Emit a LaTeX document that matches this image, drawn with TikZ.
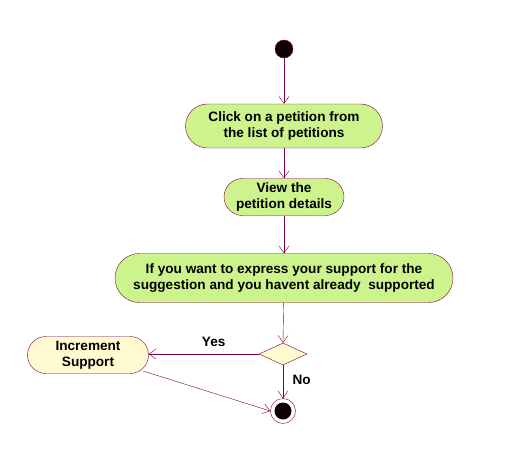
\documentclass[tikz,border=0pt]{standalone}
\usepackage{fontspec}
\setmainfont{Liberation Sans}
\usetikzlibrary{arrows.meta, shapes.geometric}
\definecolor{wire}{RGB}{128,0,64}
\definecolor{actgreen}{RGB}{204,243,140}
\definecolor{paleyellow}{RGB}{255,250,208}
\tikzset{
  activity/.style={draw=wire, fill=actgreen, align=center, font=\bfseries\fontsize{13.6}{16}\selectfont, inner sep=0pt},
  flow/.style={draw=wire, -{Straight Barb[length=7pt,width=10pt]}},
  lbl/.style={font=\bfseries\fontsize{13.6}{16}\selectfont}
}
\begin{document}
\begin{tikzpicture}[x=1pt, y=-1pt]
\useasboundingbox (0,0) rectangle (517,451);
% start state
\node[circle, draw=wire, fill=black!92!wire, minimum size=18pt, inner sep=0pt] (start) at (284,49) {};
% activities
\node[activity, minimum width=197pt, minimum height=44pt, rounded corners=22pt] (click) at (284,126) {Click on a petition from\\the list of petitions};
\node[activity, minimum width=120pt, minimum height=37pt, rounded corners=18.5pt] (view) at (284,197) {View the\\petition details};
\node[activity, minimum width=338pt, minimum height=49pt, rounded corners=24.5pt] (express) at (284,278) {If you want to express your support for the\\suggestion and you havent already\ \ supported};
% decision
\node[diamond, draw=wire, fill=paleyellow, minimum width=48pt, minimum height=22pt, inner sep=0pt, aspect=2.2] (choice) at (283,354) {};
\node[activity, fill=paleyellow, minimum width=121pt, minimum height=37pt, rounded corners=18.5pt] (incr) at (88,355) {Increment\\Support};
% end state
\node[circle, draw=wire, fill=white, minimum size=25pt, inner sep=0pt] (stop) at (283,411) {};
\node[circle, fill=black!92!wire, minimum size=17pt, inner sep=0pt] (stopdot) at (stop) {};
% flows
\draw[flow] (start) -- (click);
\draw[flow] (click) -- (view);
\draw[flow] (view) -- (express);
\draw[flow] (express) -- (choice.north);
\draw[flow] (choice.west) -- (incr.east |- choice.west) node[lbl, pos=0.41, above=4pt] (yes) {Yes};
\draw[flow] (choice.south) -- (stop.north) node[lbl, pos=0.45, right=6pt] (no) {No};
\coordinate (incrout) at (143,371);
\draw[flow] (incrout) -- (stop.west);
\end{tikzpicture}
\end{document}
